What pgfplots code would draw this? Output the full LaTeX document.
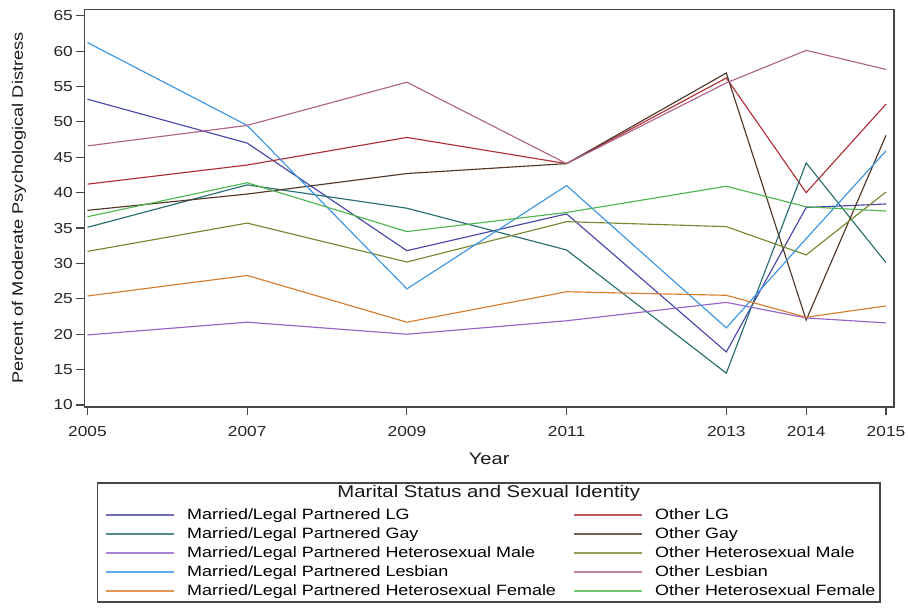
\documentclass[border=0pt]{standalone}
\usepackage{fontspec}
\setmainfont[FakeStretch=1.2]{Liberation Sans}
\usepackage{pgfplots}
\usepackage{pgfplotstable}
\pgfplotsset{compat=1.18}

\definecolor{cMLG}{HTML}{4848AA}
\definecolor{cOLG}{HTML}{B03038}
\definecolor{cMGay}{HTML}{286E6E}
\definecolor{cOGay}{HTML}{503828}
\definecolor{cMHM}{HTML}{9664C8}
\definecolor{cOHM}{HTML}{788732}
\definecolor{cMLes}{HTML}{3C96E1}
\definecolor{cOLes}{HTML}{B06488}
\definecolor{cMHF}{HTML}{D77D2D}
\definecolor{cOHF}{HTML}{50B450}

% percent with moderate psychological distress, by year
\pgfplotstableread{
year mlg  olg  mgay ogay mhm  ohm  mles oles mhf  ohf
2005 53.2 41.2 35.1 37.5 19.9 31.7 61.2 46.6 25.4 36.6
2007 47.0 43.9 41.1 39.8 21.7 35.7 49.5 49.5 28.3 41.4
2009 31.8 47.8 37.8 42.7 20.0 30.2 26.4 55.6 21.7 34.5
2011 37.0 44.1 31.9 44.1 21.9 35.9 41.0 44.1 26.0 37.2
2013 17.5 56.2 14.5 56.9 24.5 35.2 20.9 55.5 25.5 40.9
2014 37.9 40.0 44.2 22.0 22.3 31.2 33.5 60.1 22.4 38.0
2015 38.4 52.5 30.1 48.1 21.6 40.1 45.9 57.4 24.0 37.4
}\distress

\newcommand{\colone}[1]{\makebox[386bp][l]{#1}}

\begin{document}
\begin{tikzpicture}
\useasboundingbox (0,0) rectangle (908bp,610bp);
\begin{axis}[
    at={(84.3bp,203bp)}, anchor=south west,
    scale only axis,
    width=809.7bp, height=397.7bp,
    xmin=2004.96, xmax=2015.1,
    ymin=9.72, ymax=65.9,
    xtick={2005,2007,2009,2011,2013,2014,2015},
    ytick={10,15,...,65},
    /pgf/number format/1000 sep={},
    /pgf/number format/assume math mode=true,
    tick align=outside,
    xtick pos=left, ytick pos=left,
    major tick length=8bp,
    axis line style={draw=black!72, line width=1.4bp},
    every tick/.style={draw=black!72, line width=1.1bp},
    tick label style={font=\fontsize{14.5}{16}\selectfont, text=black!85},
    xticklabel style={yshift=-8bp},
    xlabel={Year},
    ylabel={Percent of Moderate Psychological Distress},
    label style={text=black!90},
    xlabel style={font=\fontsize{16.8}{18}\selectfont, at={(axis description cs:0.5,-0.1307)}, anchor=center},
    ylabel style={font=\fontsize{15.2}{17}\selectfont, at={(axis description cs:-0.0806,0.5)}, anchor=center},
    every axis plot/.append style={line width=1.15bp, no markers},
    legend columns=2,
    legend cell align=left,
    legend image code/.code={\draw[#1, line width=2bp, opacity=0.8] (0bp,0bp) -- (68bp,0bp);},
    legend style={
        at={(axis description cs:0.0256,-0.2547)}, anchor=north west,
        draw=none, fill=none, inner sep=0pt,
        font=\fontsize{15}{15}\selectfont,
        nodes={inner sep=0pt, text height=11bp, text depth=3bp},
        row sep=5bp,
        /tikz/every odd column/.append style={column sep=12bp},
    },
]
\addplot[cMLG]  table[x=year, y=mlg]  {\distress};
\addlegendentry{\colone{Married/Legal Partnered LG}}
\addplot[cOLG]  table[x=year, y=olg]  {\distress};
\addlegendentry{Other LG}
\addplot[cMGay] table[x=year, y=mgay] {\distress};
\addlegendentry{\colone{Married/Legal Partnered Gay}}
\addplot[cOGay] table[x=year, y=ogay] {\distress};
\addlegendentry{Other Gay}
\addplot[cMHM]  table[x=year, y=mhm]  {\distress};
\addlegendentry{\colone{Married/Legal Partnered Heterosexual Male}}
\addplot[cOHM]  table[x=year, y=ohm]  {\distress};
\addlegendentry{Other Heterosexual Male}
\addplot[cMLes] table[x=year, y=mles] {\distress};
\addlegendentry{\colone{Married/Legal Partnered Lesbian}}
\addplot[cOLes] table[x=year, y=oles] {\distress};
\addlegendentry{Other Lesbian}
\addplot[cMHF]  table[x=year, y=mhf]  {\distress};
\addlegendentry{\colone{Married/Legal Partnered Heterosexual Female}}
\addplot[cOHF]  table[x=year, y=ohf]  {\distress};
\addlegendentry{Other Heterosexual Female}
\end{axis}
\draw[black!72, line width=1.3bp] (97.3bp,8bp) rectangle (880bp,127bp);
\node[font=\fontsize{17}{19}\selectfont, text=black!90] at (488.7bp,117bp) {Marital Status and Sexual Identity};
\end{tikzpicture}
\end{document}
